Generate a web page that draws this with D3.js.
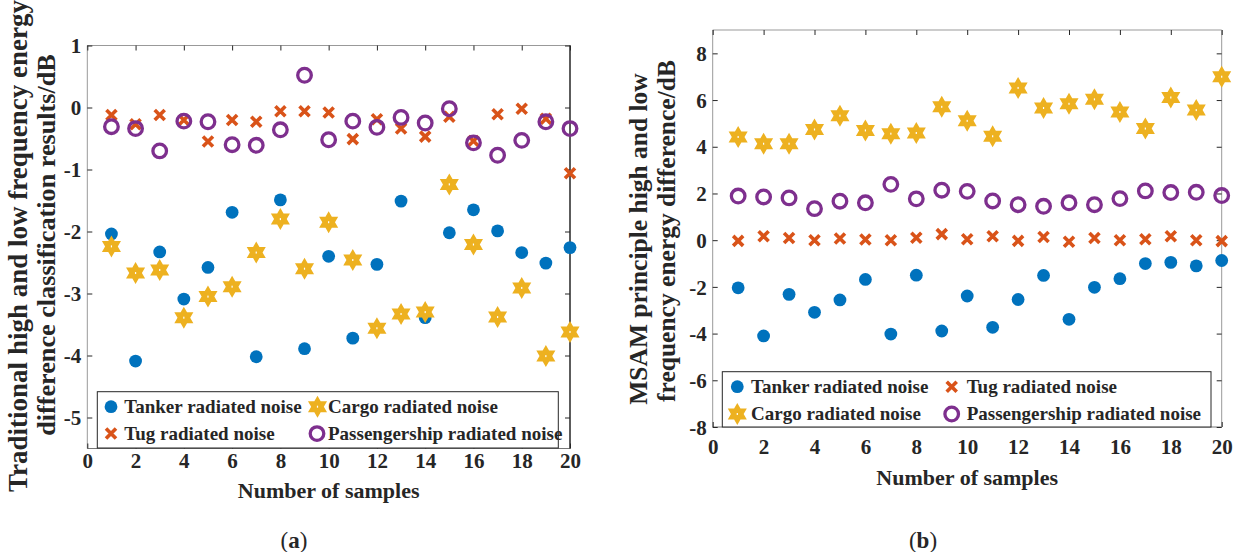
<!DOCTYPE html>
<html>
<head>
<meta charset="utf-8">
<script src="https://cdn.jsdelivr.net/npm/d3@7"></script>
<style>
  body { margin: 0; background: #fff; }
  svg { display: block; }
  text { font-family: "Liberation Serif", "Times New Roman", serif; font-weight: bold; fill: #262626; }
</style>
</head>
<body>
<svg id="fig" width="1242" height="552"></svg>
<script>
// ---- data -------------------------------------------------------------
const samples = [1, 2, 3, 4, 5, 6, 7, 8, 9, 10, 11, 12, 13, 14, 15, 16, 17, 18, 19, 20];
const xTickValues = [0, 2, 4, 6, 8, 10, 12, 14, 16, 18, 20];

// (a) traditional method
const yTicksA = [1, 0, -1, -2, -3, -4, -5];
const tankerA = [-2.04, -4.09, -2.33, -3.09, -2.58, -1.69, -4.02, -1.49, -3.89, -2.40,
                 -3.72, -2.53, -1.51, -3.39, -2.02, -1.65, -1.99, -2.34, -2.51, -2.26];
const tugA = [-0.12, -0.27, -0.12, -0.20, -0.55, -0.20, -0.23, -0.06, -0.06, -0.08,
              -0.51, -0.19, -0.34, -0.47, -0.15, -0.54, -0.11, -0.02, -0.18, -1.06];
const cargoA = [-2.24, -2.67, -2.62, -3.39, -3.05, -2.89, -2.34, -1.80, -2.60, -1.85,
                -2.46, -3.56, -3.33, -3.30, -1.24, -2.21, -3.38, -2.91, -4.01, -3.62];
const passengerA = [-0.31, -0.34, -0.70, -0.22, -0.23, -0.60, -0.61, -0.36, 0.52, -0.52,
                    -0.22, -0.32, -0.16, -0.25, -0.02, -0.57, -0.77, -0.53, -0.23, -0.34];

// (b) MSAM principle
const yTicksB = [8, 6, 4, 2, 0, -2, -4, -6, -8];
const tankerB = [-2.04, -4.10, -2.32, -3.09, -2.56, -1.68, -4.02, -1.50, -3.89, -2.39,
                 -3.73, -2.54, -1.51, -3.39, -2.02, -1.65, -1.00, -0.95, -1.10, -0.87];
const tugB = [-0.03, 0.17, 0.09, 0.00, 0.07, 0.03, 0.00, 0.10, 0.26, 0.04,
              0.17, -0.03, 0.14, -0.07, 0.09, 0.00, 0.04, 0.17, 0.00, -0.04];
const cargoB = [4.42, 4.13, 4.13, 4.74, 5.33, 4.70, 4.56, 4.59, 5.71, 5.11,
                4.45, 6.52, 5.66, 5.84, 6.03, 5.49, 4.78, 6.11, 5.57, 7.00];
const passengerB = [1.89, 1.85, 1.81, 1.35, 1.67, 1.60, 2.39, 1.77, 2.14, 2.09,
                    1.68, 1.52, 1.45, 1.60, 1.52, 1.78, 2.11, 2.04, 2.05, 1.91];

const seriesNames = ["Tanker radiated noise", "Tug radiated noise", "Cargo radiated noise", "Passengership radiated noise"];
const seriesColors = ["#0072BD", "#D95319", "#EDB120", "#7E2F8E"];
const seriesKinds = ["dot", "cross", "hexagram", "ring"];

// plain hyphen for negative tick labels
const tickText = d => String(d);

// ---- marker drawing ---------------------------------------------------
function hexagramPath(R) {
  const r = R / Math.sqrt(3);
  const pts = [];
  for (let k = 0; k < 12; k++) {
    const a = -Math.PI / 2 + k * Math.PI / 6;
    const rad = k % 2 === 0 ? R : r;
    pts.push([rad * Math.cos(a), rad * Math.sin(a)]);
  }
  return "M" + pts.map(p => p[0].toFixed(2) + "," + p[1].toFixed(2)).join("L") + "Z";
}

function drawMarker(g, kind, color, cx, cy) {
  if (kind === "dot") {
    g.append("circle").attr("cx", cx).attr("cy", cy).attr("r", 6.4).attr("fill", color);
  } else if (kind === "cross") {
    const h = 5.0;
    g.append("path")
      .attr("d", `M${cx - h},${cy - h}L${cx + h},${cy + h}M${cx - h},${cy + h}L${cx + h},${cy - h}`)
      .attr("stroke", color).attr("stroke-width", 3.6).attr("fill", "none");
  } else if (kind === "hexagram") {
    g.append("path").attr("d", hexagramPath(11))
      .attr("transform", `translate(${cx},${cy})`).attr("fill", color);
    g.append("rect").attr("x", cx - 0.6).attr("y", cy - 1).attr("width", 1.2).attr("height", 2)
      .attr("fill", "#fff");
  } else if (kind === "ring") {
    g.append("circle").attr("cx", cx).attr("cy", cy).attr("r", 6.8)
      .attr("fill", "none").attr("stroke", color).attr("stroke-width", 3.3);
  }
}

// ---- panel ------------------------------------------------------------
function drawPanel(svg, cfg) {
  const x = d3.scaleLinear().domain([0, 20]).range([cfg.left, cfg.right]);
  const y = d3.scaleLinear().domain(cfg.yDomain).range([cfg.bottom, cfg.top]);
  const g = svg.append("g");

  // frame
  const frame = g.append("g");
  frame.append("line").attr("x1", cfg.left).attr("x2", cfg.right).attr("y1", cfg.top).attr("y2", cfg.top)
    .attr("stroke", "#999").attr("stroke-width", 1);
  frame.append("line").attr("x1", cfg.left).attr("x2", cfg.left).attr("y1", cfg.top).attr("y2", cfg.bottom)
    .attr("stroke", "#999").attr("stroke-width", 1);
  frame.append("line").attr("x1", cfg.left).attr("x2", cfg.right).attr("y1", cfg.bottom).attr("y2", cfg.bottom)
    .attr("stroke", "#777").attr("stroke-width", 1);
  frame.append("line").attr("x1", cfg.right).attr("x2", cfg.right).attr("y1", cfg.top).attr("y2", cfg.bottom)
    .attr("stroke", cfg.rightColor).attr("stroke-width", cfg.rightWidth);

  // inward ticks on all four sides
  const tl = 5;
  const gb = g.append("g").attr("transform", `translate(0,${cfg.bottom})`)
    .call(d3.axisBottom(x).tickValues(xTickValues).tickSize(tl).tickPadding(0).tickFormat(tickText));
  gb.select(".domain").remove();
  gb.selectAll(".tick line").attr("y2", -tl).attr("stroke", "#262626");
  gb.selectAll(".tick text").attr("y", cfg.xLabelY - cfg.bottom).attr("dy", 0)
    .style("font-size", "21px").attr("fill", "#262626");

  const gt = g.append("g").attr("transform", `translate(0,${cfg.top})`)
    .call(d3.axisTop(x).tickValues(xTickValues).tickSize(tl).tickFormat(""));
  gt.select(".domain").remove();
  gt.selectAll(".tick line").attr("y2", tl).attr("stroke", "#262626");

  const gl = g.append("g").attr("transform", `translate(${cfg.left},0)`)
    .call(d3.axisLeft(y).tickValues(cfg.yTicks).tickSize(tl).tickPadding(0).tickFormat(tickText));
  gl.select(".domain").remove();
  gl.selectAll(".tick line").attr("x2", tl).attr("stroke", "#262626");
  gl.selectAll(".tick text").attr("x", -6).attr("dy", "0.34em")
    .style("font-size", "21px").attr("fill", "#262626");

  const gr = g.append("g").attr("transform", `translate(${cfg.right},0)`)
    .call(d3.axisRight(y).tickValues(cfg.yTicks).tickSize(tl).tickFormat(""));
  gr.select(".domain").remove();
  gr.selectAll(".tick line").attr("x2", -tl).attr("stroke", "#262626");

  // series
  cfg.series.forEach((vals, si) => {
    const sg = g.append("g");
    vals.forEach((v, i) => drawMarker(sg, seriesKinds[si], seriesColors[si], x(samples[i]), y(v)));
  });

  // axis titles
  g.append("text").attr("x", (cfg.left + cfg.right) / 2).attr("y", cfg.xTitleY)
    .attr("text-anchor", "middle").style("font-size", "22px").text("Number of samples");
  cfg.yTitle.forEach((line, i) => {
    g.append("text")
      .attr("transform", `translate(${cfg.yTitleX[i]},${cfg.yTitleCY[i]}) rotate(-90)`)
      .attr("text-anchor", "middle").style("font-size", cfg.yTitleSize[i] + "px").text(line);
  });

  // legend
  const L = cfg.legend;
  const lg = g.append("g");
  lg.append("rect").attr("x", L.x0).attr("y", L.y0).attr("width", L.x1 - L.x0).attr("height", L.y1 - L.y0)
    .attr("fill", "#fff").attr("stroke", "#262626").attr("stroke-width", 1);
  L.items.forEach(it => {
    drawMarker(lg, seriesKinds[it.s], seriesColors[it.s], it.mx, it.cy);
    lg.append("text").attr("x", it.tx).attr("y", it.cy).attr("dy", "0.33em")
      .style("font-size", "19px").text(seriesNames[it.s]);
  });

  // caption
  const cap = g.append("text").attr("x", cfg.capX).attr("y", cfg.capY).attr("text-anchor", "middle")
    .style("font-size", "23px").style("font-weight", "normal");
  cap.append("tspan").text("(");
  cap.append("tspan").style("font-weight", "bold").text(cfg.capLetter);
  cap.append("tspan").text(")");
}

const svg = d3.select("#fig");

drawPanel(svg, {
  left: 87.3, right: 570, top: 45.5, bottom: 448.5,
  yDomain: [-5.5, 1], yTicks: yTicksA,
  rightColor: "#262626", rightWidth: 1.5,
  xLabelY: 468, xTitleY: 498,
  yTitle: ["Traditional high and low frequency energy", "difference classification results/dB"],
  yTitleX: [27, 55], yTitleCY: [246, 245], yTitleSize: [27, 26.2],
  series: [tankerA, tugA, cargoA, passengerA],
  legend: {
    x0: 97.3, x1: 558.3, y0: 391.7, y1: 448,
    items: [
      { s: 0, mx: 111, tx: 124.3, cy: 406.7 },
      { s: 2, mx: 317.5, tx: 328, cy: 406.7 },
      { s: 1, mx: 111, tx: 124.3, cy: 433.6 },
      { s: 3, mx: 317, tx: 328, cy: 433.6 }
    ]
  },
  capX: 294, capY: 548, capLetter: "a"
});

drawPanel(svg, {
  left: 712.7, right: 1221.7, top: 30, bottom: 427,
  yDomain: [-8, 9], yTicks: yTicksB,
  rightColor: "#999", rightWidth: 1,
  xLabelY: 454, xTitleY: 485,
  yTitle: ["MSAM principle high and low", "frequency energy difference/dB"],
  yTitleX: [647, 675], yTitleCY: [239, 231], yTitleSize: [25.5, 25.5],
  series: [tankerB, tugB, cargoB, passengerB],
  legend: {
    x0: 722.3, x1: 1211, y0: 371.7, y1: 427,
    items: [
      { s: 0, mx: 737.3, tx: 751, cy: 386.7 },
      { s: 1, mx: 951.7, tx: 966.7, cy: 386.7 },
      { s: 2, mx: 737.3, tx: 751, cy: 414 },
      { s: 3, mx: 951.7, tx: 966.7, cy: 414 }
    ]
  },
  capX: 923, capY: 548, capLetter: "b"
});
</script>
</body>
</html>
